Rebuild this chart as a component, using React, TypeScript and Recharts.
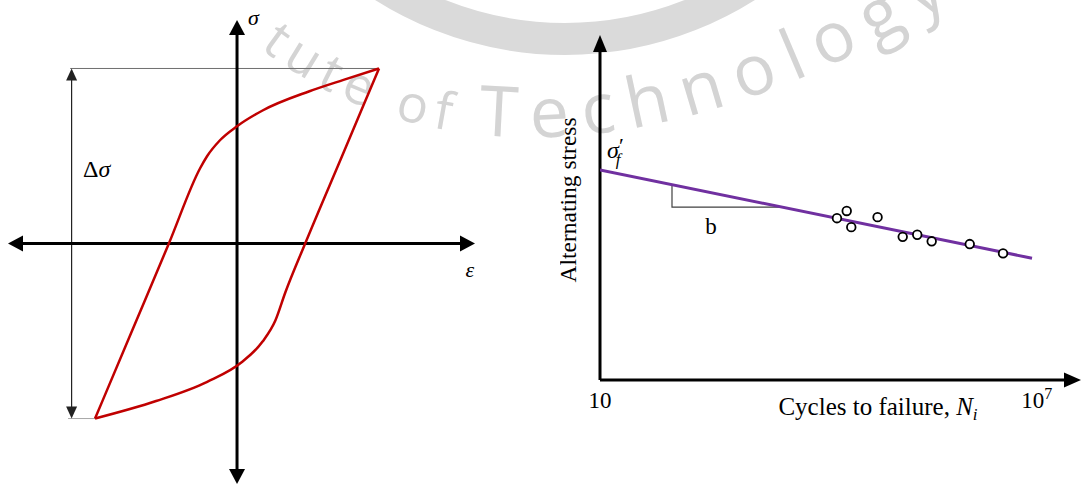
import React from 'react';
import {
  ComposedChart,
  Line,
  Scatter,
  XAxis,
  YAxis,
  ReferenceLine,
  ReferenceDot,
} from 'recharts';

// ---------- Hysteresis loop (normalised strain ε, normalised stress σ) ----------
const loadingBranchStrain = [-1.0, -0.74, -0.48, -0.26, -0.21, -0.12, 0.0, 0.18, 0.51, 0.75, 1.0];
const loadingBranchStress = [-1.0, -0.5, 0.0, 0.43, 0.5, 0.59, 0.67, 0.76, 0.87, 0.935, 1.0];
const unloadingBranchStrain = [-1.0, -0.57, -0.21, 0.03, 0.18, 0.27, 0.34, 0.48, 0.74, 1.0];
const unloadingBranchStress = [-1.0, -0.9, -0.79, -0.68, -0.56, -0.44, -0.28, 0.0, 0.5, 1.0];
const strainDomain: [number, number] = [-1.613, 1.676];
const stressDomain: [number, number] = [-1.374, 1.277];
const stressPeak = 1.0;
const stressTrough = -1.0;
const strainAtTrough = -1.0;
const strainAtPeak = 1.0;
const rangeGuideStrain = -1.165;

// ---------- S–N (Basquin) diagram ----------
const cyclesToFailure = [18000, 24500, 28300, 65000, 144000, 228000, 360000, 1200000, 3440000];
const alternatingStress = [46.9, 49.0, 44.3, 47.2, 41.5, 42.1, 40.2, 39.4, 36.7];
const fitCycles = [10, 8.6e6];
const fitStress = [60.9, 35.3];
const slopeCycles = [97.5, 97.5, 3162];
const slopeStress = [56.6, 50.1, 50.1];
const cycleTicks = [10, 1e7];
const cycleDomain: [number, number] = [10, 4.05e7];
const stressAxisDomain: [number, number] = [0, 100];

const zip = (xs: number[], ys: number[], kx: string, ky: string) =>
  xs.map((x, i) => ({ [kx]: x, [ky]: ys[i] }));

const loadingBranch = zip(loadingBranchStrain, loadingBranchStress, 'e', 's');
const unloadingBranch = zip(unloadingBranchStrain, unloadingBranchStress, 'e', 's');
const specimens = zip(cyclesToFailure, alternatingStress, 'n', 's');
const basquinFit = zip(fitCycles, fitStress, 'n', 's');
const slopeMarker = zip(slopeCycles, slopeStress, 'n', 's');

const SERIF = "'Liberation Serif', 'Times New Roman', serif";

// Straight line with optional filled arrowheads, used as a ReferenceLine shape
const arrowLine =
  (stroke: string, width: number, headLen: number, headWidth: number, atStart: boolean, atEnd: boolean) =>
  (props: any) => {
    const { x1, y1, x2, y2 } = props;
    const dx = x2 - x1;
    const dy = y2 - y1;
    const len = Math.hypot(dx, dy) || 1;
    const ux = dx / len;
    const uy = dy / len;
    const nx = -uy;
    const ny = ux;
    const hw = headWidth / 2;
    const head = (tx: number, ty: number, vx: number, vy: number) => {
      const bx = tx - vx * headLen;
      const by = ty - vy * headLen;
      return `${tx},${ty} ${bx + nx * hw},${by + ny * hw} ${bx - nx * hw},${by - ny * hw}`;
    };
    const sx = atStart ? x1 + ux * headLen * 0.8 : x1;
    const sy = atStart ? y1 + uy * headLen * 0.8 : y1;
    const ex = atEnd ? x2 - ux * headLen * 0.8 : x2;
    const ey = atEnd ? y2 - uy * headLen * 0.8 : y2;
    return (
      <g>
        <line x1={sx} y1={sy} x2={ex} y2={ey} stroke={stroke} strokeWidth={width} />
        {atStart && <polygon points={head(x1, y1, -ux, -uy)} fill={stroke} />}
        {atEnd && <polygon points={head(x2, y2, ux, uy)} fill={stroke} />}
      </g>
    );
  };

const plainLine = (stroke: string, width: number) => (props: any) =>
  <line x1={props.x1} y1={props.y1} x2={props.x2} y2={props.y2} stroke={stroke} strokeWidth={width} />;

// Text placed at a data coordinate, used as a ReferenceDot shape
const textAt =
  (content: React.ReactNode, opts: { anchor?: string; size?: number; rotate?: number; italic?: boolean } = {}) =>
  (p: any) => (
    <text
      x={p.cx}
      y={p.cy}
      textAnchor={opts.anchor ?? 'start'}
      fontFamily={SERIF}
      fontSize={opts.size ?? 22}
      fontStyle={opts.italic ? 'italic' : 'normal'}
      fill="#000"
      transform={opts.rotate ? `rotate(${opts.rotate} ${p.cx} ${p.cy})` : undefined}
    >
      {content}
    </text>
  );

function HysteresisChart() {
  return (
    <ComposedChart width={540} height={485} margin={{ top: 20, right: 65, bottom: 1, left: 8 }}>
      <XAxis dataKey="e" type="number" domain={strainDomain} allowDataOverflow hide />
      <YAxis dataKey="s" type="number" domain={stressDomain} allowDataOverflow hide />

      <ReferenceLine
        segment={[{ x: rangeGuideStrain - 0.01, y: stressPeak }, { x: strainAtPeak, y: stressPeak }]}
        ifOverflow="visible"
        shape={plainLine('#6f6f6f', 1)}
      />
      <ReferenceLine
        segment={[{ x: -1.19, y: stressTrough }, { x: strainAtTrough, y: stressTrough }]}
        ifOverflow="visible"
        shape={plainLine('#a8a8a8', 1)}
      />
      <ReferenceLine
        segment={[{ x: rangeGuideStrain, y: stressTrough }, { x: rangeGuideStrain, y: stressPeak }]}
        ifOverflow="visible"
        shape={arrowLine('#222', 1.2, 12, 11, true, true)}
      />

      <ReferenceLine
        segment={[{ x: strainDomain[0], y: 0 }, { x: strainDomain[1], y: 0 }]}
        ifOverflow="visible"
        shape={arrowLine('#000', 3, 15, 16, true, true)}
      />
      <ReferenceLine
        segment={[{ x: 0, y: stressDomain[0] }, { x: 0, y: stressDomain[1] }]}
        ifOverflow="visible"
        shape={arrowLine('#000', 3, 15, 16, true, true)}
      />

      <Line
        data={loadingBranch}
        dataKey="s"
        type="monotone"
        stroke="#C00000"
        strokeWidth={2.5}
        dot={false}
        isAnimationActive={false}
      />
      <Line
        data={unloadingBranch}
        dataKey="s"
        type="monotone"
        stroke="#C00000"
        strokeWidth={2.5}
        dot={false}
        isAnimationActive={false}
      />

      <ReferenceDot x={0.077} y={1.249} r={0} ifOverflow="visible" shape={textAt('σ', { italic: true, size: 22 })} />
      <ReferenceDot x={1.64} y={-0.19} r={0} ifOverflow="visible" shape={textAt('ε', { italic: true, size: 22, anchor: 'middle' })} />
      <ReferenceDot
        x={-1.085}
        y={0.38}
        r={0}
        ifOverflow="visible"
        shape={textAt(
          <>
            <tspan>Δ</tspan>
            <tspan fontStyle="italic">σ</tspan>
          </>,
          { size: 24 },
        )}
      />
    </ComposedChart>
  );
}

const CycleTick = (props: any) => {
  const { x, y, payload } = props;
  const exp = Math.round(Math.log10(payload.value));
  return (
    <text x={x} y={y + 20} textAnchor="middle" fontFamily={SERIF} fontSize={23} fill="#000">
      {exp === 1 ? (
        '10'
      ) : (
        <>
          <tspan>10</tspan>
          <tspan dy={-9} fontSize={16}>
            {exp}
          </tspan>
        </>
      )}
    </text>
  );
};

function SNChart() {
  return (
    <ComposedChart width={521} height={485} margin={{ top: 35, right: 0, bottom: 75, left: 40 }}>
      <XAxis
        dataKey="n"
        type="number"
        scale="log"
        domain={cycleDomain}
        allowDataOverflow
        ticks={cycleTicks}
        interval={0}
        axisLine={false}
        tickLine={false}
        height={30}
        tick={<CycleTick />}
      />
      <YAxis dataKey="s" type="number" domain={stressAxisDomain} allowDataOverflow hide />

      <ReferenceLine
        segment={[{ x: cycleDomain[0], y: 0 }, { x: cycleDomain[0], y: stressAxisDomain[1] }]}
        ifOverflow="visible"
        shape={arrowLine('#000', 3, 17, 14, false, true)}
      />
      <ReferenceLine
        segment={[{ x: cycleDomain[0], y: 0 }, { x: cycleDomain[1], y: 0 }]}
        ifOverflow="visible"
        shape={arrowLine('#000', 3, 17, 15, false, true)}
      />

      <Line
        data={slopeMarker}
        dataKey="s"
        type="linear"
        stroke="#404040"
        strokeWidth={1.2}
        dot={false}
        isAnimationActive={false}
      />
      <Line
        data={basquinFit}
        dataKey="s"
        type="linear"
        stroke="#7030A0"
        strokeWidth={3}
        dot={false}
        isAnimationActive={false}
      />
      <Scatter
        data={specimens}
        dataKey="s"
        isAnimationActive={false}
        shape={(p: any) => <circle cx={p.cx} cy={p.cy} r={4.3} fill="#fff" stroke="#000" strokeWidth={1.8} />}
      />

      <ReferenceDot
        x={12.5}
        y={64.3}
        r={0}
        ifOverflow="visible"
        shape={textAt(
          <>
            <tspan fontStyle="italic">σ</tspan>
            <tspan dx={0} dy={-5} fontSize={22}>′</tspan>
            <tspan dx={-8} dy={12} fontSize={17} fontStyle="italic">f</tspan>
          </>,
          { size: 24 },
        )}
      />
      <ReferenceDot x={335} y={42.3} r={0} ifOverflow="visible" shape={textAt('b', { anchor: 'middle', size: 23 })} />
      <ReferenceDot
        x={65900}
        y={-10.1}
        r={0}
        ifOverflow="visible"
        shape={textAt(
          <>
            <tspan>Cycles to failure, </tspan>
            <tspan fontStyle="italic">N</tspan>
            <tspan dy={5} fontSize={17} fontStyle="italic">i</tspan>
          </>,
          { anchor: 'middle', size: 25 },
        )}
      />
      <ReferenceDot
        x={4.68}
        y={52.2}
        r={0}
        ifOverflow="visible"
        shape={textAt('Alternating stress', { anchor: 'middle', size: 23.5, rotate: -90 })}
      />
    </ComposedChart>
  );
}

export default function App() {
  return (
    <div
      style={{
        position: 'absolute',
        left: 0,
        top: 0,
        width: 1081,
        height: 485,
        background: '#fff',
        overflow: 'hidden',
      }}
    >
      <svg width={1081} height={485} style={{ position: 'absolute', left: 0, top: 0 }}>
        <circle cx={565} cy={-300} r={339} fill="none" stroke="#dadada" strokeWidth={32} />
        <path id="crest-arc" d="M 180 -30 C 380 215, 700 170, 1000 -30" fill="none" />
        <text fill="#d4d4d4" fontFamily="'Open Sans', sans-serif">
          <textPath href="#crest-arc" startOffset={112}>
            <tspan fontSize={52} letterSpacing={8}>
              tute of{' '}
            </tspan>
            <tspan fontSize={70} letterSpacing={14}>
              Technology
            </tspan>
          </textPath>
        </text>
      </svg>
      <div style={{ position: 'absolute', left: 0, top: 0 }}>
        <HysteresisChart />
      </div>
      <div style={{ position: 'absolute', left: 560, top: 0 }}>
        <SNChart />
      </div>
    </div>
  );
}
